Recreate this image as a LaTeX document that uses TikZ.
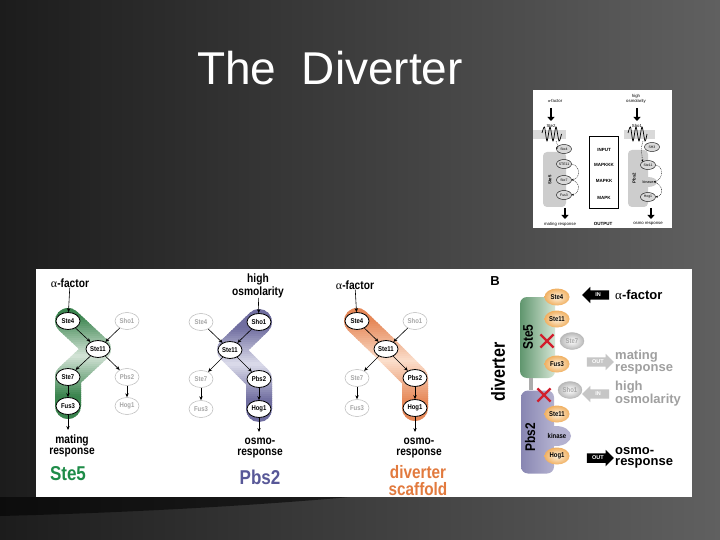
\documentclass[tikz,border=0pt]{standalone}
\usepackage{fontspec}
\setmainfont{Liberation Sans}
\newfontfamily\cnd[FakeStretch=0.85]{Liberation Sans}
\newfontfamily\sera{Liberation Serif}
\usetikzlibrary{shapes.geometric,shapes.arrows,shapes.misc,arrows.meta}
\definecolor{bgA}{RGB}{28,28,28}
\definecolor{bgB}{RGB}{96,96,96}
\definecolor{gDark}{RGB}{58,132,78}
\definecolor{gLight}{RGB}{238,244,238}
\definecolor{pDark}{RGB}{112,110,160}
\definecolor{pLight}{RGB}{238,238,247}
\definecolor{oDark}{RGB}{230,136,88}
\definecolor{oLight}{RGB}{254,236,222}
\definecolor{ste5c}{RGB}{30,140,72}
\definecolor{pbs2c}{RGB}{88,88,152}
\definecolor{divc}{RGB}{226,122,62}
\definecolor{peachIn}{RGB}{255,242,220}
\definecolor{peachOut}{RGB}{240,176,98}
\definecolor{boxGa}{RGB}{96,150,110}
\definecolor{boxGb}{RGB}{214,230,214}
\definecolor{boxPa}{RGB}{136,134,178}
\definecolor{boxPb}{RGB}{180,178,208}
\definecolor{xred}{RGB}{210,30,45}
\definecolor{offtxt}{RGB}{160,160,160}
\definecolor{thumbgray}{RGB}{205,205,205}
\tikzset{
  onn/.style={ellipse, draw=black, line width=0.8pt, fill=white, minimum width=24pt, minimum height=17pt, inner sep=0pt, font=\cnd\bfseries\fontsize{7}{8}\selectfont},
  offn/.style={onn, draw=gray!55, line width=0.5pt, text=gray!70},
  arr/.style={-{Stealth[length=4pt,width=3.4pt]}, line width=0.6pt},
  band/.style={line width=26pt, line cap=round, line join=round},
  lbl/.style={font=\cnd\bfseries\fontsize{12}{10.5}\selectfont, align=center, inner sep=0pt},
  biglbl/.style={font=\cnd\bfseries\fontsize{20}{16}\selectfont, align=center, inner sep=0pt},
  peach/.style={ellipse, shade, inner color=peachIn, outer color=peachOut, minimum width=25pt, minimum height=17pt, inner sep=0pt, font=\cnd\bfseries\fontsize{7}{8}\selectfont},
  gball/.style={ellipse, shade, inner color=white, outer color=gray!55, draw=gray!60, line width=0.3pt, minimum width=24pt, minimum height=17pt, inner sep=0pt, text=gray!70, font=\cnd\bfseries\fontsize{7}{8}\selectfont},
  xmark/.style={cross out, draw=xred, line width=2.2pt, minimum size=11pt, inner sep=0pt},
  blk/.style={single arrow, fill=black, text=white, minimum height=27pt, minimum width=16pt, single arrow head extend=3.5pt, inner sep=2.6pt, font=\bfseries\fontsize{5.5}{5.5}\selectfont},
  blab/.style={font=\bfseries\fontsize{13}{11.5}\selectfont, align=left, anchor=west, inner sep=0pt},
  tt/.style={font=\fontsize{4.3}{4.8}\selectfont, align=center, inner sep=0pt},
  tov/.style={ellipse, draw=black, line width=0.4pt, fill=gray!30, minimum width=15pt, minimum height=9pt, inner sep=0pt, font=\fontsize{3.5}{4}\selectfont},
  tarr/.style={-{Triangle[length=4pt,width=7pt]}, line width=2.6pt},
  tdash/.style={dashed, dash pattern=on 1pt off 0.8pt, line width=0.35pt, -{Stealth[length=2pt,width=2pt]}},
}
% #1 path, #2 dark colour, #3 light colour, #4 y of lightest point, #5 half span
\newcommand{\gradband}[5]{%
  \foreach \yy in {294,296,...,434} {%
    \pgfmathsetmacro{\bandt}{min(100, 14 + 86*abs(\yy+1-#4)/#5)}%
    \begin{scope}
      \clip (0,\yy) rectangle (720,\yy+2.4);
      \draw[band, color=#2!\bandt!#3] #1;
    \end{scope}
  }%
}
\begin{document}
\begin{tikzpicture}[x=1pt,y=-1pt]
\useasboundingbox (0,0) rectangle (720,540);
% background
\shade[left color=bgA, right color=bgB] (0,0) rectangle (720,540);
\fill[black, opacity=0.55] (0,497) -- (350,497) .. controls (250,506) and (120,513) .. (0,516) -- cycle;
% title
\node[text=white, font=\fontsize{46}{50}\selectfont, anchor=base, inner sep=0pt] (title) at (330,85) {The\ \ Diverter};

% ===== thumbnail =====
\fill[white] (533,90) rectangle (672,228);
\fill[gray!30] (533,130) rectangle (566,139);
\fill[gray!30] (624,130) rectangle (655,139);
\fill[thumbgray, rounded corners=4pt] (543,152) rectangle (566,207);
\fill[thumbgray, rounded corners=4pt] (628,150) rectangle (648,207);
\fill[thumbgray] (648,182) ellipse [x radius=9, y radius=5];
\node[tt] (tA) at (555,101) {{\sera α}-factor};
\coordinate (tAs) at (551,108);
\coordinate (tAe) at (551,121);
\draw[tarr] (tAs) -- (tAe);
\node[tt] (tSte2) at (551,126) {Ste2};
\draw[line width=0.7pt] plot[smooth] coordinates {(542,133)(544.5,127)(547,141)(550,127)(553,141)(556,127)(559,141)(561.5,134)};
\node[tov] (t4) at (564,149) {Ste4};
\node[tov] (t11) at (564,164) {STE11};
\node[tov] (t7) at (564,180) {Ste7};
\node[tov] (tF) at (564,195) {Fus3};
\coordinate (tW1) at (556,141);
\draw[tdash] (tW1) .. controls (558,146) .. (t4.west);
\draw[tdash] (t11.east) .. controls +(9,2) and +(9,-2) .. (t7.east);
\draw[tdash] (t7.east) .. controls +(9,2) and +(9,-2) .. (tF.east);
\node[tt, rotate=90, font=\bfseries\fontsize{4.3}{5}\selectfont] (tS5) at (550,180) {Ste5};
\coordinate (tMs) at (565,208);
\coordinate (tMe) at (565,219);
\draw[tarr] (tMs) -- (tMe);
\node[tt] (tMR) at (560,224) {mating response};
\node[draw, line width=0.6pt, minimum width=29pt, minimum height=72pt] (tbox) at (603.5,172) {};
\node[tt, font=\bfseries\fontsize{4.5}{5}\selectfont] (tIN) at (604,150) {INPUT};
\node[tt, font=\bfseries\fontsize{4.5}{5}\selectfont] (tK3) at (604,165) {MAPKKK};
\node[tt, font=\bfseries\fontsize{4.5}{5}\selectfont] (tK2) at (604,181) {MAPKK};
\node[tt, font=\bfseries\fontsize{4.5}{5}\selectfont] (tK1) at (604,198) {MAPK};
\node[tt, font=\bfseries\fontsize{4.5}{5}\selectfont] (tOUT) at (603,224) {OUTPUT};
\node[tt] (tH) at (636,98.5) {high\\osmolarity};
\coordinate (tHs) at (637,108);
\coordinate (tHe) at (637,121);
\draw[tarr] (tHs) -- (tHe);
\node[tt] (tSho) at (637,126) {Sho1};
\draw[line width=0.7pt] plot[smooth] coordinates {(628,133)(630.5,127)(633,141)(636,127)(639,141)(642,127)(645,141)(647,134)};
\node[tov] (rS) at (652,147) {SH3};
\node[tov] (r11) at (648,165) {Ste11};
\node[tt, font=\fontsize{3.8}{4}\selectfont] (rK) at (648,182) {kinase};
\node[tov] (rH) at (648,197) {Hog1};
\coordinate (tW2) at (643,141);
\draw[tdash] (tW2) .. controls (641,146) .. (r11.north west);
\draw[tdash] (r11.east) .. controls +(9,2) and +(9,-2) .. (rK.east);
\draw[tdash] (rK.east) .. controls +(9,2) and +(9,-2) .. (rH.east);
\node[tt, rotate=90, font=\bfseries\fontsize{4.3}{5}\selectfont] (tP2) at (634,178) {Pbs2};
\coordinate (tOs) at (651,208);
\coordinate (tOe) at (651,219);
\draw[tarr] (tOs) -- (tOe);
\node[tt] (tOR) at (648,224) {osmo response};

% ===== main panel =====
\fill[white] (36,269) rectangle (692,497);

% ---- panel 1 (Ste5) ----
\coordinate (a4) at (68,321);
\coordinate (a11) at (98,349);
\coordinate (a7) at (68,377);
\coordinate (aF) at (68,406);
\gradband{(a4) -- (a11) -- (a7) -- (aF)}{gDark}{gLight}{356}{40}
\node[lbl] (aAl) at (70,283) {{\sera\mdseries α}-factor};
\node[onn] (A4) at (a4) {Ste4};
\node[offn] (ASh) at (127,321) {Sho1};
\node[onn] (A11) at (a11) {Ste11};
\node[onn] (A7) at (a7) {Ste7};
\node[offn] (AP) at (127,377) {Pbs2};
\node[onn] (AF) at (aF) {Fus3};
\node[offn] (AH) at (127,406) {Hog1};
\coordinate (aEnd) at (68,430);
\draw[arr] (aAl) -- (A4);
\draw[arr] (A4) -- (A11);
\draw[arr] (ASh) -- (A11);
\draw[arr] (A11) -- (A7);
\draw[arr] (A11) -- (AP);
\draw[arr] (A7) -- (AF);
\draw[arr] (AP) -- (AH);
\draw[arr] (AF) -- (aEnd);
\node[lbl] (aMR) at (72,446) {mating\\response};
\node[biglbl, text=ste5c] (aS5) at (68,474) {Ste5};

% ---- panel 2 (Pbs2) ----
\coordinate (bSh) at (259,322);
\coordinate (b11) at (230,350);
\coordinate (bP) at (259,379);
\coordinate (bH) at (259,409);
\gradband{(bSh) -- (b11) -- (bP) -- (bH)}{pDark}{pLight}{364}{36}
\node[lbl] (bHO) at (258,286) {high\\osmolarity};
\node[offn] (B4) at (201,322) {Ste4};
\node[onn] (BSh) at (bSh) {Sho1};
\node[onn] (B11) at (b11) {Ste11};
\node[offn] (B7) at (201,379) {Ste7};
\node[onn] (BP) at (bP) {Pbs2};
\node[offn] (BF) at (201,409) {Fus3};
\node[onn] (BH) at (bH) {Hog1};
\coordinate (bEnd) at (259,432);
\draw[arr] (bHO) -- (BSh);
\draw[arr] (BSh) -- (B11);
\draw[arr] (B4) -- (B11);
\draw[arr] (B11) -- (B7);
\draw[arr] (B11) -- (BP);
\draw[arr] (B7) -- (BF);
\draw[arr] (BP) -- (BH);
\draw[arr] (BH) -- (bEnd);
\node[lbl] (bOR) at (260,448) {osmo-\\response};
\node[biglbl, text=pbs2c] (bP2) at (260,477) {Pbs2};

% ---- panel 3 (diverter scaffold) ----
\coordinate (c4) at (357,321);
\coordinate (c11) at (386,349);
\coordinate (cP) at (415,378);
\coordinate (cH) at (415,408);
\gradband{(c4) -- (c11) -- (cP) -- (cH)}{oDark}{oLight}{361}{40}
\node[lbl] (cAl) at (355,285) {{\sera\mdseries α}-factor};
\node[onn] (C4) at (c4) {Ste4};
\node[offn] (CSh) at (415,321) {Sho1};
\node[onn] (C11) at (c11) {Ste11};
\node[offn] (C7) at (357,378) {Ste7};
\node[onn] (CP) at (cP) {Pbs2};
\node[offn] (CF) at (357,408) {Fus3};
\node[onn] (CH) at (cH) {Hog1};
\coordinate (cEnd) at (415,432);
\draw[arr] (cAl) -- (C4);
\draw[arr] (C4) -- (C11);
\draw[arr] (CSh) -- (C11);
\draw[arr] (C11) -- (C7);
\draw[arr] (C11) -- (CP);
\draw[arr] (C7) -- (CF);
\draw[arr] (CP) -- (CH);
\draw[arr] (CH) -- (cEnd);
\node[lbl] (cOR) at (419,448) {osmo-\\response};
\node[biglbl, font=\cnd\bfseries\fontsize{18}{17}\selectfont, text=divc] (cDS) at (418,481) {diverter\\scaffold};

% ---- panel B ----
\node[font=\bfseries\fontsize{13}{13}\selectfont, inner sep=0pt] (Blab) at (495,281) {B};
\node[rotate=90, font=\cnd\bfseries\fontsize{19}{19}\selectfont, inner sep=0pt] (dv) at (498,372) {diverter};
\node[rectangle, rounded corners=7pt, left color=boxGa, right color=boxGb, minimum width=35pt, minimum height=81pt, inner sep=0pt] (GB) at (537.5,337.5) {};
\fill[boxPb] (556,436) ellipse [x radius=15, y radius=10];
\node[rectangle, rounded corners=7pt, left color=boxPa, right color=boxPb, minimum width=33pt, minimum height=83pt, inner sep=0pt] (PB) at (537.5,432) {};
\draw[gray!65, line width=4pt] ([xshift=-6.5pt]GB.south) -- ([xshift=-6.5pt]PB.north);
\node[rotate=90, font=\cnd\bfseries\fontsize{14}{14}\selectfont, inner sep=0pt] (S5r) at (528,337) {Ste5};
\node[rotate=90, font=\cnd\bfseries\fontsize{14}{14}\selectfont, inner sep=0pt] (P2r) at (530,437) {Pbs2};
\node[peach] (Q4) at (557,297) {Ste4};
\node[peach] (Q11) at (557,319) {Ste11};
\node[gball] (Q7) at (572,341) {Ste7};
\node[peach] (QF) at (557,364) {Fus3};
\node[xmark] (X1) at (547,341) {};
\node[gball] (QSh) at (570,390) {Sho1};
\node[xmark] (X2) at (544,395) {};
\node[peach] (R11) at (557,414) {Ste11};
\node[font=\cnd\bfseries\fontsize{7}{8}\selectfont, inner sep=0pt] (RK) at (557,436) {kinase};
\node[peach] (RH) at (557,456) {Hog1};
\node[blk, shape border rotate=180] (IN1) at (598,295) {IN};
\node[blk, fill=gray!45] (OUT1) at (598,362) {OUT};
\node[blk, fill=gray!45, shape border rotate=180] (IN2) at (598,394) {IN};
\node[blk] (OUT2) at (598,458) {OUT};
\node[blab] (bt1) at (615,295) {{\sera\mdseries α}-factor};
\node[blab, text=offtxt] (bt2) at (615,362) {mating\\response};
\node[blab, text=offtxt] (bt3) at (615,394) {high\\osmolarity};
\node[blab] (bt4) at (615,458) {osmo-\\response};
\end{tikzpicture}
\end{document}
